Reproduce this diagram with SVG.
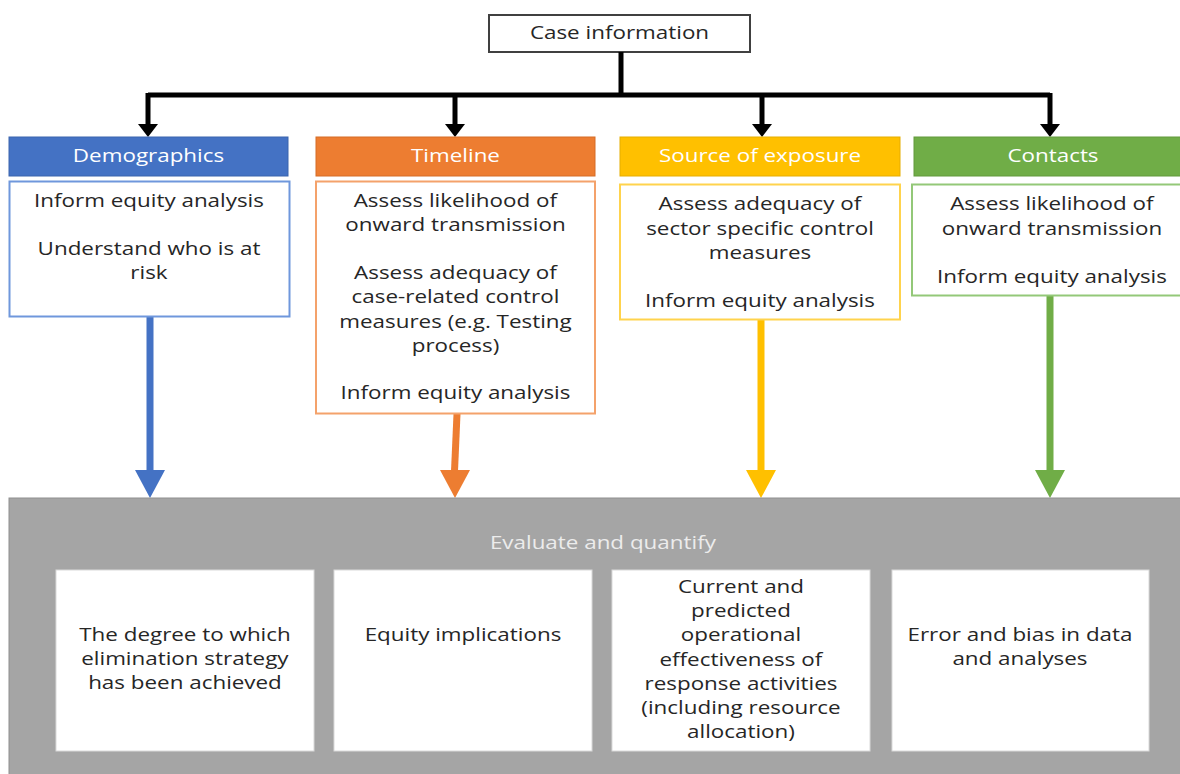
<svg xmlns="http://www.w3.org/2000/svg" width="1180" height="774" viewBox="0 0 1180 774">
  <style>
    .t, .h, .b { font-family: "Open Sans", "Noto Sans", sans-serif; font-size: 18px; text-anchor: middle;
                 transform-box: fill-box; transform-origin: center; transform: scaleX(1.245); }
    .t, .b { fill: #262626; }
    .h { fill: #ffffff; }
    .card { fill: #ffffff; stroke-width: 2; }
    .inner { fill: #ffffff; stroke: #d9d9d9; stroke-width: 1; }
    .tree { fill: none; stroke: #000000; stroke-width: 5; }
  </style>

  <rect width="1180" height="774" fill="#ffffff"/>

  <!-- root -->
  <g id="case-information">
    <rect x="489" y="15" width="261" height="37" fill="#ffffff" stroke="#404040" stroke-width="2"/>
    <text class="t" x="619.5" y="39">Case information</text>
  </g>

  <!-- branching connectors -->
  <g id="connectors">
    <path class="tree" d="M621,52 V95"/>
    <path class="tree" d="M148,95 H1050"/>
    <path class="tree" d="M148,93 V124"/>
    <path class="tree" d="M455,95 V124"/>
    <path class="tree" d="M762,95 V124"/>
    <path class="tree" d="M1050,93 V124"/>
    <path d="M138,124 H158 L148,137 Z" fill="#000"/>
    <path d="M445,124 H465 L455,137 Z" fill="#000"/>
    <path d="M752,124 H772 L762,137 Z" fill="#000"/>
    <path d="M1040,124 H1060 L1050,137 Z" fill="#000"/>

    <!-- coloured arrows into the evaluation panel -->
    <rect x="146.5" y="317" width="7" height="154" fill="#4472C4"/>
    <path d="M135,470 H165 L150,498 Z" fill="#4472C4"/>
    <path d="M453.5,414 L460.5,414 L458,471 L451,471 Z" fill="#ED7D31"/>
    <path d="M440,470 H470 L455,498 Z" fill="#ED7D31"/>
    <rect x="757.5" y="320" width="7" height="151" fill="#FFC000"/>
    <path d="M746,470 H776 L761,498 Z" fill="#FFC000"/>
    <rect x="1046.5" y="296" width="7" height="175" fill="#70AD47"/>
    <path d="M1035,470 H1065 L1050,498 Z" fill="#70AD47"/>
  </g>

  <!-- Demographics -->
  <g id="demographics">
    <rect x="9" y="137" width="279" height="39" fill="#4472C4" stroke="#3a64ad" stroke-width="1"/>
    <text class="h" x="148.5" y="162">Demographics</text>
    <rect class="card" x="9.5" y="181.5" width="280" height="135" stroke="#6f97dc"/>
    <text class="t" x="149" y="207">Inform equity analysis</text>
    <text class="t" x="149" y="255">Understand who is at</text>
    <text class="t" x="149" y="279">risk</text>
  </g>

  <!-- Timeline -->
  <g id="timeline">
    <rect x="316" y="137" width="279" height="39" fill="#ED7D31" stroke="#d56d27" stroke-width="1"/>
    <text class="h" x="455.5" y="162">Timeline</text>
    <rect class="card" x="316" y="181.5" width="279" height="232" stroke="#F4A26B"/>
    <text class="t" x="455.5" y="207">Assess likelihood of</text>
    <text class="t" x="455.5" y="231">onward transmission</text>
    <text class="t" x="455.5" y="279">Assess adequacy of</text>
    <text class="t" x="455.5" y="303">case-related control</text>
    <text class="t" x="455.5" y="328">measures (e.g. Testing</text>
    <text class="t" x="455.5" y="352">process)</text>
    <text class="t" x="455.5" y="399">Inform equity analysis</text>
  </g>

  <!-- Source of exposure -->
  <g id="source-of-exposure">
    <rect x="620" y="137" width="280" height="39" fill="#FFC000" stroke="#e6ad00" stroke-width="1"/>
    <text class="h" x="760" y="162">Source of exposure</text>
    <rect class="card" x="620" y="184.5" width="280" height="135" stroke="#FFD34D"/>
    <text class="t" x="760" y="210">Assess adequacy of</text>
    <text class="t" x="760" y="235">sector specific control</text>
    <text class="t" x="760" y="259">measures</text>
    <text class="t" x="760" y="307">Inform equity analysis</text>
  </g>

  <!-- Contacts -->
  <g id="contacts">
    <rect x="914" y="137" width="270" height="39" fill="#70AD47" stroke="#62993d" stroke-width="1"/>
    <text class="h" x="1053" y="162">Contacts</text>
    <rect class="card" x="912" y="184.5" width="272" height="111" stroke="#93C878"/>
    <text class="t" x="1052" y="210">Assess likelihood of</text>
    <text class="t" x="1052" y="235">onward transmission</text>
    <text class="t" x="1052" y="283">Inform equity analysis</text>
  </g>

  <!-- Evaluation panel -->
  <g id="evaluate-and-quantify">
    <rect x="9" y="498" width="1175" height="280" fill="#A5A5A5" stroke="#8f8f8f" stroke-width="1"/>
    <text class="h" x="603" y="549" style="fill:#ececec">Evaluate and quantify</text>
  </g>

  <g id="elimination-degree">
    <rect class="inner" x="56" y="570" width="258" height="181"/>
    <text class="b" x="185" y="641">The degree to which</text>
    <text class="b" x="185" y="665">elimination strategy</text>
    <text class="b" x="185" y="689">has been achieved</text>
  </g>

  <g id="equity-implications">
    <rect class="inner" x="334" y="570" width="258" height="181"/>
    <text class="b" x="463" y="641">Equity implications</text>
  </g>

  <g id="operational-effectiveness">
    <rect class="inner" x="612" y="570" width="258" height="181"/>
    <text class="b" x="741" y="593">Current and</text>
    <text class="b" x="741" y="617">predicted</text>
    <text class="b" x="741" y="641">operational</text>
    <text class="b" x="741" y="666">effectiveness of</text>
    <text class="b" x="741" y="690">response activities</text>
    <text class="b" x="741" y="714">(including resource</text>
    <text class="b" x="741" y="738">allocation)</text>
  </g>

  <g id="error-and-bias">
    <rect class="inner" x="892" y="570" width="257" height="181"/>
    <text class="b" x="1020" y="641">Error and bias in data</text>
    <text class="b" x="1020" y="665">and analyses</text>
  </g>
</svg>
